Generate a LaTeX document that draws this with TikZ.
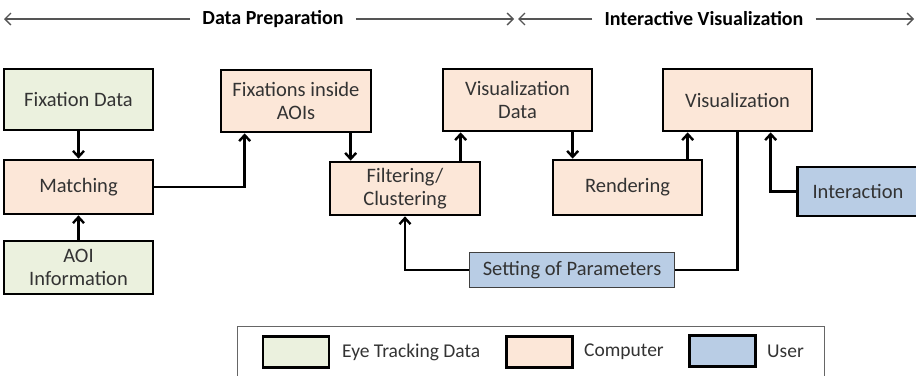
\documentclass[tikz,border=0pt]{standalone}
\usepackage{fontspec}
\setmainfont{Carlito}
\usetikzlibrary{arrows.meta}

\definecolor{eyegreen}{HTML}{EBF1DE}
\definecolor{comppeach}{HTML}{FCE7D8}
\definecolor{userblue}{HTML}{B9CDE5}
\definecolor{boxtext}{HTML}{333333}
\definecolor{guidegray}{HTML}{555555}

\tikzset{
  procbox/.style={draw=black, line width=2.7pt, align=center, inner sep=0pt,
    font=\fontsize{20.5}{23.5}\selectfont, text=boxtext},
  datbox/.style={procbox, fill=eyegreen},
  compbox/.style={procbox, fill=comppeach},
  userbox/.style={procbox, fill=userblue},
  flow/.style={line width=2.7pt, -{Straight Barb[length=6pt,width=11pt,line width=2.4pt]}},
  plainflow/.style={line width=2.7pt},
  phase/.style={font=\bfseries\fontsize{20}{23}\selectfont, text=black, inner xsep=12pt, inner ysep=0pt},
  guide/.style={guidegray, line width=1.4pt, -{Straight Barb[length=6pt,width=12pt,line width=1.3pt]}},
  keybox/.style={draw=black, line width=2.7pt, minimum width=66pt, minimum height=31pt, inner sep=0pt},
  keytext/.style={font=\fontsize{19.5}{22}\selectfont, text=boxtext, anchor=west, inner sep=0pt}
}

\begin{document}
\begin{tikzpicture}[x=1pt,y=-1pt]
\useasboundingbox (0,0) rectangle (916,375);

% phase headers with their extent arrows
\node[phase] (dp) at (273,19) {Data Preparation};
\node[phase] (iv) at (704,19) {Interactive Visualization};
\coordinate (dpL) at (4,19);
\coordinate (dpR) at (514,19);
\coordinate (ivL) at (518,19);
\coordinate (ivR) at (914,19);
\draw[guide] (dp.west) -- (dpL);
\draw[guide] (dp.east) -- (dpR);
\draw[guide] (iv.west) -- (ivL);
\draw[guide] (iv.east) -- (ivR);

% process boxes
\node[datbox, minimum width=149pt, minimum height=61pt] (fix) at (78.5,99.5) {Fixation Data};
\node[compbox, minimum width=149pt, minimum height=54pt] (match) at (78.5,187) {Matching};
\node[datbox, minimum width=149pt, minimum height=53pt] (aoi) at (78.5,267.5) {AOI\\Information};
\node[compbox, minimum width=150pt, minimum height=62pt] (fia) at (296,101) {Fixations inside\\AOIs};
\node[compbox, minimum width=149pt, minimum height=62pt] (vdata) at (517.5,100) {Visualization\\Data};
\node[compbox, minimum width=150pt, minimum height=53pt] (filt) at (405,188.5) {Filtering/\\Clustering};
\node[compbox, minimum width=149pt, minimum height=55pt] (rend) at (627.5,187.5) {Rendering};
\node[compbox, minimum width=149pt, minimum height=62pt] (vis) at (737.5,100) {Visualization};
\node[userbox, minimum width=122pt, minimum height=49pt, text width=122pt, align=left,
      inner xsep=0pt] (inter) at (858.5,191.5) {\hspace*{15pt}Interaction};
\node[userbox, draw=black!75, line width=1.5pt, minimum width=205pt, minimum height=35pt] (setp) at (572,270) {Setting of Parameters};

% data flow
\draw[flow] (fix.south) -- (match.north);
\draw[flow] (aoi.north) -- (match.south);
\draw[flow] (match.east) -| ([xshift=25pt]fia.south west);
\draw[flow] ([xshift=131pt]fia.south west) -- ([xshift=131pt]fia.south west |- filt.north);
\draw[flow] ([xshift=132pt]filt.north west) -- ([xshift=132pt]filt.north west |- vdata.south);
\draw[flow] ([xshift=131pt]vdata.south west) -- ([xshift=131pt]vdata.south west |- rend.north);
\draw[flow] ([xshift=136pt]rend.north west) -- ([xshift=136pt]rend.north west |- vis.south);
\draw[flow] (setp.west) -| (filt.south);
\draw[plainflow] (vis.south) |- (setp.east);
\draw[flow] (inter.west) -| ([xshift=109pt]vis.south west);

% legend
\draw[black!60, line width=1pt] (237,326) rectangle (824,400);
\node[keybox, fill=eyegreen] (kd) at (296,352) {};
\node[keytext] (kdt) at (342,352) {Eye Tracking Data};
\node[keybox, fill=comppeach] (kc) at (539.5,352) {};
\node[keytext] (kct) at (584,352) {Computer};
\node[keybox, fill=userblue] (ku) at (722.5,351) {};
\node[keytext] (kut) at (767,351) {User};
\end{tikzpicture}
\end{document}
